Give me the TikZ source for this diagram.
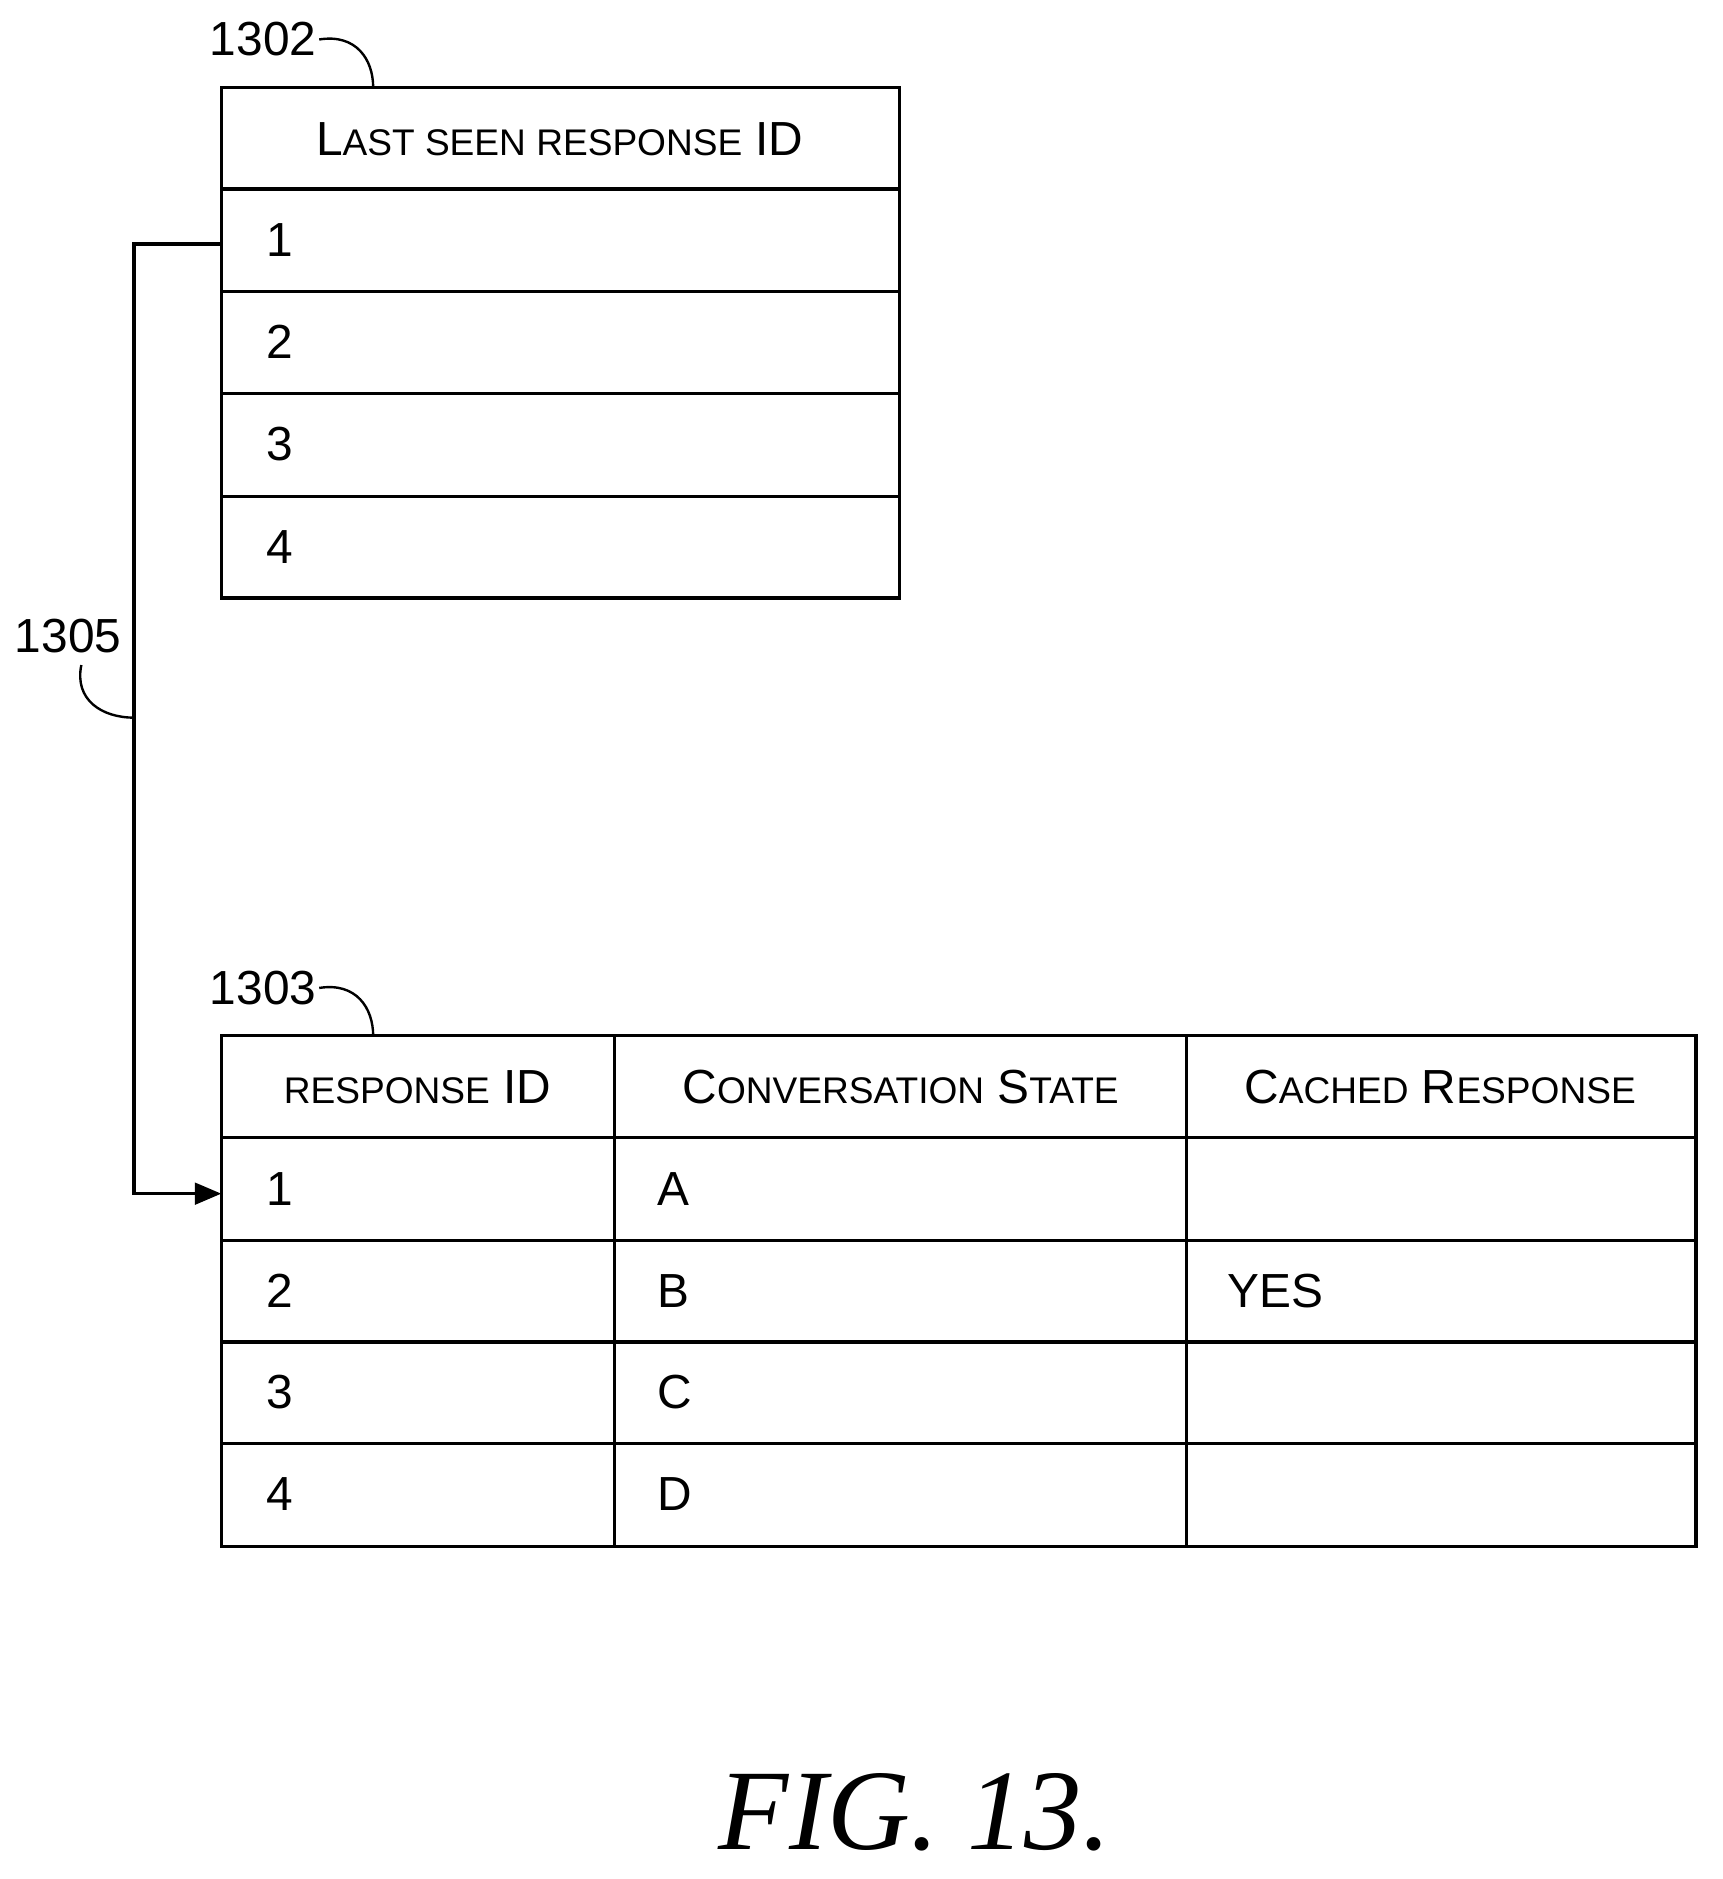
\documentclass[tikz,border=0pt]{standalone}
\usepackage{fontspec}
\setmainfont{Liberation Sans}
\newfontfamily\figfont{Liberation Serif}
\usetikzlibrary{arrows.meta}
\newcommand{\smc}[1]{{\fontsize{15.5}{18}\selectfont #1}}
\begin{document}
\begin{tikzpicture}[x=0.5pt,y=-0.5pt,
  tb/.style={line width=1.3pt},
  txt/.style={font=\fontsize{20}{24}\selectfont,inner sep=0pt},
  lead/.style={line width=1pt}]
\useasboundingbox (0,0) rectangle (1440,1571);
% top table
\draw[tb] (185,73) rectangle (752,500);
\foreach \y in {158,244,329,415} \draw[tb] (185,\y) -- (752,\y);
\node[txt] (h1) at (468,116) {L\smc{AST SEEN RESPONSE} ID};
\foreach \i/\y in {1/201,2/286,3/371,4/457} \node[txt,anchor=west] (t\i) at (222,\y) {\i};
\coordinate (ta) at (185,204);
% bottom table
\draw[tb] (185,866) rectangle (1418,1293);
\foreach \y in {951,1037,1122,1207} \draw[tb] (185,\y) -- (1418,\y);
\draw[tb] (514,866) -- (514,1293);
\draw[tb] (992,866) -- (992,1293);
\node[txt] (c1) at (349,909) {\smc{RESPONSE} ID};
\node[txt] (c2) at (753,909) {C\smc{ONVERSATION} S\smc{TATE}};
\node[txt] (c3) at (1204,909) {C\smc{ACHED} R\smc{ESPONSE}};
\foreach \i/\l/\y in {1/A/994,2/B/1079,3/C/1164,4/D/1249} {
  \node[txt,anchor=west] (b\i) at (222,\y) {\i};
  \node[txt,anchor=west] (s\i) at (549,\y) {\l};
}
\node[txt,anchor=west] (yes) at (1026,1079) {YES};
\coordinate (ba) at (185,998);
% connector
\draw[line width=1.3pt,-{Triangle[length=11pt,width=9pt]}] (ta) -- (112,204) -- (112,998) -- (ba);
% labels
\node[txt] (l1302) at (220,33) {1302};
\draw[lead] (l1302.east) ++(2,0) .. controls (298,28) and (312,50) .. (312,73);
\node[txt] (l1303) at (220,826) {1303};
\draw[lead] (l1303.east) ++(2,0) .. controls (298,821) and (312,843) .. (312,866);
\node[txt] (l1305) at (57,532) {1305};
\draw[lead] (68,556) .. controls (62,585) and (85,600) .. (112,600);
\node[inner sep=0pt,font=\figfont\itshape\fontsize{48}{52}\selectfont] (fig) at (765,1515) {FIG. 13.};
\end{tikzpicture}
\end{document}
